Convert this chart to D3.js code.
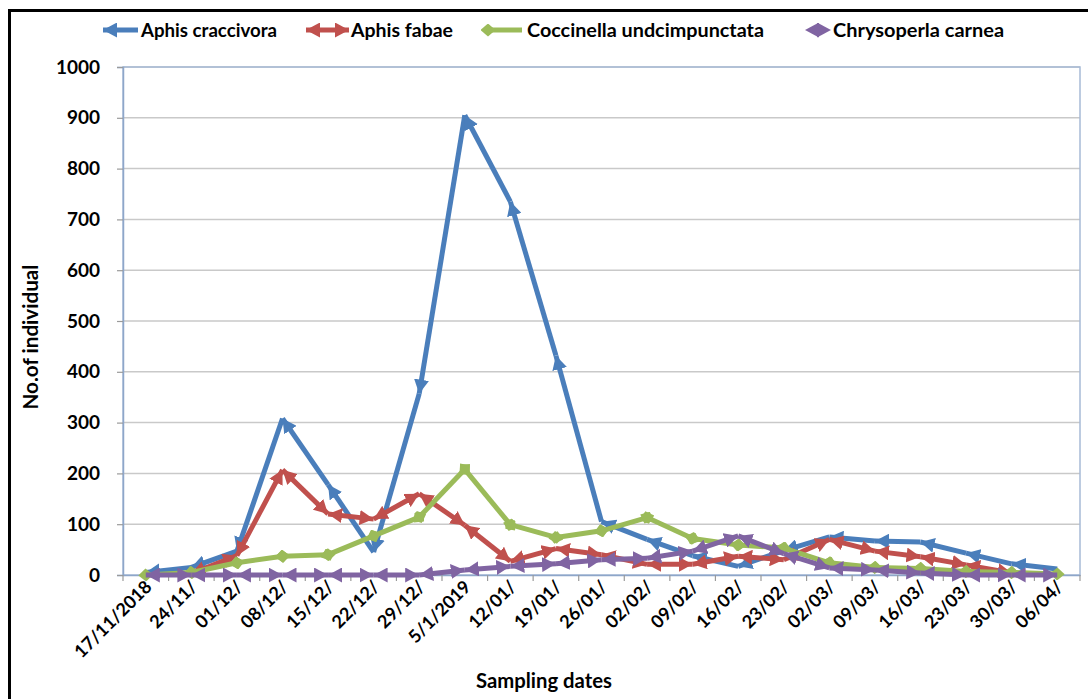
<!DOCTYPE html>
<html><head><meta charset="utf-8">
<script src="https://cdn.jsdelivr.net/npm/d3@7/dist/d3.min.js"></script>
<style>
html,body{margin:0;padding:0;background:#fff;}
svg{display:block;font-family:Lato,"Open Sans",sans-serif;}
</style></head>
<body><svg id="chart" width="1088" height="699"></svg>
<script>
const categories = ["17/11/2018","24/11/","01/12/","08/12/","15/12/","22/12/","29/12/","5/1/2019","12/01/","19/01/","26/01/","02/02/","09/02/","16/02/","23/02/","02/03/","09/03/","16/03/","23/03/","30/03/","06/04/"];
const aphisCraccivora = [5,15,47,308,178,45,357,905,735,432,105,70,38,17,48,75,67,65,43,22,12];
const aphisFabae = [null,3,38,207,120,110,160,98,27,52,40,21,21,37,30,70,47,36,20,4,null];
const coccinella = [0,5,24,37,40,77,114,208,99,74,87,113,72,59,53,24,15,13,7,5,2];
const chrysoperla = [0,0,0,0,0,0,0,10,17,22,30,33,47,77,42,14,10,4,0,0,0];
const yTicks = [0,100,200,300,400,500,600,700,800,900,1000];
const seriesNames = ["Aphis craccivora","Aphis fabae","Coccinella undcimpunctata","Chrysoperla carnea"];
const seriesColors = ["#4a7ebb","#c0504d","#9bbb59","#8064a2"];
const yTitle = "No.of individual";
const xTitle = "Sampling dates";

(function(){
const svg = d3.select("#chart");
const pL = 123, pR = 1080, pT = 67, pB = 575;

const x = d3.scaleBand().domain(categories).range([pL, pR]).paddingInner(0).paddingOuter(0);
const y = d3.scaleLinear().domain([0,1000]).range([pB, pT]);
const cx = c => x(c) + x.bandwidth()/2;

// outer black border (left + top)
svg.append("line").attr("x1",9.5).attr("x2",9.5).attr("y1",9).attr("y2",699).attr("stroke","#000").attr("stroke-width",3);
svg.append("line").attr("x1",8).attr("x2",1088).attr("y1",10.5).attr("y2",10.5).attr("stroke","#000").attr("stroke-width",3);

// gridlines
svg.append("g").selectAll("line").data(yTicks.filter(d=>d>0)).join("line")
  .attr("x1",pL).attr("x2",pR).attr("y1",d=>y(d)).attr("y2",d=>y(d))
  .attr("stroke","#c9c9c9").attr("stroke-width",1.5);

// plot border
svg.append("rect").attr("x",pL).attr("y",pT).attr("width",pR-pL).attr("height",pB-pT)
  .attr("fill","none").attr("stroke","#a7bad6").attr("stroke-width",1.5);

// y axis
const yAxis = svg.append("g").attr("transform",`translate(${pL},0)`)
  .call(d3.axisLeft(y).tickValues(yTicks).tickSize(6).tickPadding(17).tickFormat(d3.format("d")));
yAxis.select(".domain").attr("stroke","#8ea6c9").attr("stroke-width",1.5);
yAxis.selectAll(".tick line").attr("stroke","#9a9a9a").attr("stroke-width",1.2);
yAxis.selectAll(".tick text").attr("font-size",19).attr("font-weight","bold").attr("fill","#000")
  .attr("font-family","Lato, sans-serif");

// x axis
const xAxis = svg.append("g").attr("transform",`translate(0,${pB})`)
  .call(d3.axisBottom(x).tickSize(0).tickFormat(d=>d));
xAxis.select(".domain").attr("stroke","#8ea6c9").attr("stroke-width",1.5);
xAxis.selectAll(".tick text").attr("font-size",18).attr("font-weight","bold").attr("fill","#000")
  .attr("font-family","Lato, sans-serif")
  .attr("text-anchor","end").attr("dy",0).attr("dx",0).attr("y",0)
  .attr("transform","translate(7,13) rotate(-45)");
// boundary tick marks
svg.append("g").selectAll("line").data(categories).join("line")
  .attr("x1",d=>x(d)).attr("x2",d=>x(d)).attr("y1",pB).attr("y2",pB+6)
  .attr("stroke","#9a9a9a").attr("stroke-width",1.2);
svg.append("line").attr("x1",pR).attr("x2",pR).attr("y1",pB).attr("y2",pB+6)
  .attr("stroke","#9a9a9a").attr("stroke-width",1.2);

// titles
svg.append("text").attr("transform",`translate(38,337) rotate(-90)`)
  .attr("text-anchor","middle").attr("font-size",20).attr("font-weight","bold")
  .attr("textLength",145).attr("lengthAdjust","spacingAndGlyphs").text(yTitle);
svg.append("text").attr("x",544).attr("y",688).attr("text-anchor","middle")
  .attr("font-size",20).attr("font-weight","bold")
  .attr("textLength",136).attr("lengthAdjust","spacingAndGlyphs").text(xTitle);

// markers
const defs = svg.append("defs");
const AL = 14, AW = 7.5;
seriesColors.forEach((c,i)=>{
  defs.append("marker").attr("id","tri"+i).attr("markerUnits","userSpaceOnUse")
    .attr("viewBox",`0 0 ${AL} ${2*AW}`).attr("markerWidth",AL).attr("markerHeight",2*AW)
    .attr("refX",AL).attr("refY",AW).attr("orient","auto-start-reverse")
    .append("path").attr("d",`M0,0 L${AL},${AW} L0,${2*AW} Z`).attr("fill",c);
  defs.append("marker").attr("id","dia"+i).attr("markerUnits","userSpaceOnUse")
    .attr("viewBox","0 0 15 13").attr("markerWidth",15).attr("markerHeight",13)
    .attr("refX",7.5).attr("refY",6.5).attr("orient","auto")
    .append("path").attr("d","M0,6.5 L7.5,0 L15,6.5 L7.5,13 Z").attr("fill",c);
});

const seriesDefs = [
  {vals:aphisCraccivora, start:"tri0", end:null},
  {vals:aphisFabae, start:"tri1", end:"tri1"},
  {vals:coccinella, start:"dia2", end:"dia2"},
  {vals:chrysoperla, start:"tri3", end:"tri3"}
];

seriesDefs.forEach((s,si)=>{
  const segs = [];
  for(let i=0;i<categories.length-1;i++){
    if(s.vals[i]!=null && s.vals[i+1]!=null) segs.push({a:categories[i],b:categories[i+1],va:s.vals[i],vb:s.vals[i+1]});
  }
  const g = svg.append("g");
  g.selectAll("line").data(segs).join("line")
    .attr("x1",d=>cx(d.a)).attr("y1",d=>y(d.va))
    .attr("x2",d=>cx(d.b)).attr("y2",d=>y(d.vb))
    .attr("stroke",seriesColors[si]).attr("stroke-width",5).attr("stroke-linecap","butt")
    .attr("marker-start",s.start?`url(#${s.start})`:null)
    .attr("marker-end",s.end?`url(#${s.end})`:null);
});

// legend
const legendItems = [
  {x1:103,x2:138,tx:141,w:136,start:"tri0",end:null},
  {x1:306,x2:349,tx:351,w:102,start:"tri1",end:"tri1"},
  {x1:488,x2:522,tx:527,w:237,start:"dia2",end:null},
  {x1:805,x2:831,tx:833,w:171,start:"tri3",end:"tri3"}
];
const lg = svg.append("g");
legendItems.forEach((d,i)=>{
  lg.append("line").attr("x1",d.x1).attr("x2",d.x2).attr("y1",30).attr("y2",30)
    .attr("stroke",seriesColors[i]).attr("stroke-width",i===3?0.01:5)
    .attr("marker-start",`url(#${d.start})`).attr("marker-end",d.end?`url(#${d.end})`:null);
  lg.append("text").attr("x",d.tx).attr("y",37).attr("font-size",19).attr("font-weight","bold")
    .attr("fill","#000").attr("textLength",d.w).attr("lengthAdjust","spacingAndGlyphs").text(seriesNames[i]);
});
})();
</script></body></html>
